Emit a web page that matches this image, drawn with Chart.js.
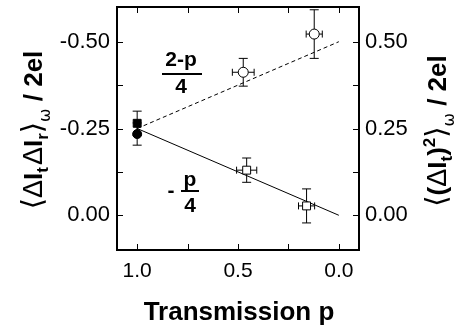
<!DOCTYPE html>
<html><head><meta charset="utf-8">
<script src="https://cdn.jsdelivr.net/npm/chart.js@4"></script>
<style>html,body{margin:0;padding:0;background:#fff}#wrap{width:466px;height:328px}</style>
</head><body><div id="wrap"><canvas id="c" width="466" height="328"></canvas></div>
<script>
// ---- data ----
const squareP = [1.0, 0.457, 0.16];
const squareY = [-0.265, -0.130, -0.027];
const squareYErr = [0.035, 0.035, 0.049];
const squareXErr = [0, 0.05, 0.04];
const circleP = [1.0, 0.474, 0.122];
const circleY = [0.234, 0.412, 0.522];
const circleYErr = [0.032, 0.04, 0.07];
const circleXErr = [0, 0.054, 0.04];
const fitP = [1.0, 0.0];
const fitLeftY = [-0.25, 0.0];   // -p/4
const fitRightY = [0.25, 0.5];   // (2-p)/4
const xTickLabels = [1.0, 0.5, 0.0];
const xTickMarks = [1.0, 0.75, 0.5, 0.25, 0.0];
const leftTickLabels = [-0.5, -0.25, 0.0];
const rightTickLabels = [0.5, 0.25, 0.0];
const rightTickMarks = [0.5, 0.375, 0.25, 0.125, 0.0];

const FONT = '"Liberation Sans", Arial, Helvetica, sans-serif';
const pts = (xs, ys) => xs.map((x, i) => ({x: x, y: ys[i]}));

const errorBars = {
  id: 'errorBars',
  beforeDatasetsDraw(chart) {
    const ctx = chart.ctx, xs = chart.scales.x;
    ctx.save();
    ctx.strokeStyle = '#000'; ctx.lineWidth = 1;
    chart.data.datasets.forEach(ds => {
      if (!ds.yErr) return;
      const ys = chart.scales[ds.yAxisID];
      ds.data.forEach((p, i) => {
        const px = xs.getPixelForValue(p.x), py = ys.getPixelForValue(p.y);
        const ye = ds.yErr[i], xe = ds.xErr[i];
        if (ye) {
          const a = ys.getPixelForValue(p.y + ye), b = ys.getPixelForValue(p.y - ye);
          ctx.beginPath();
          ctx.moveTo(px, a); ctx.lineTo(px, b);
          ctx.moveTo(px - 4.5, a); ctx.lineTo(px + 4.5, a);
          ctx.moveTo(px - 4.5, b); ctx.lineTo(px + 4.5, b);
          ctx.stroke();
        }
        if (xe) {
          const a = xs.getPixelForValue(p.x + xe), b = xs.getPixelForValue(p.x - xe);
          ctx.beginPath();
          ctx.moveTo(a, py); ctx.lineTo(b, py);
          ctx.moveTo(a, py - 3.5); ctx.lineTo(a, py + 3.5);
          ctx.moveTo(b, py - 3.5); ctx.lineTo(b, py + 3.5);
          ctx.stroke();
        }
      });
    });
    ctx.restore();
  }
};

function drawRich(ctx, parts, cx, cy, rot) {
  ctx.save();
  ctx.translate(cx, cy); ctx.rotate(rot);
  ctx.fillStyle = '#000'; ctx.textBaseline = 'alphabetic'; ctx.textAlign = 'left';
  let total = 0;
  parts.forEach(p => { ctx.font = p.f; p.w = ctx.measureText(p.t).width + (p.gap || 0); total += p.w; });
  let x = -total / 2;
  parts.forEach(p => { ctx.font = p.f; ctx.fillText(p.t, x, p.dy || 0); x += p.w; });
  ctx.restore();
}

const frameAndText = {
  id: 'frameAndText',
  afterDraw(chart) {
    const ctx = chart.ctx, a = chart.chartArea, xs = chart.scales.x, yr = chart.scales.yR;
    ctx.save();
    ctx.strokeStyle = '#000';
    ctx.lineWidth = 1;
    ctx.beginPath();
    xTickMarks.forEach(v => {
      const px = Math.round(xs.getPixelForValue(v)) + 0.5;
      ctx.moveTo(px, a.bottom); ctx.lineTo(px, a.bottom - 6);
      ctx.moveTo(px, a.top); ctx.lineTo(px, a.top + 6);
    });
    rightTickMarks.forEach(v => {
      const py = Math.round(yr.getPixelForValue(v)) + 0.5;
      ctx.moveTo(a.left, py); ctx.lineTo(a.left + 6, py);
      ctx.moveTo(a.right, py); ctx.lineTo(a.right - 6, py);
    });
    ctx.stroke();
    ctx.lineWidth = 2;
    ctx.strokeRect(a.left, a.top, a.right - a.left, a.bottom - a.top);

    // fraction annotations
    ctx.fillStyle = '#000'; ctx.textAlign = 'center'; ctx.textBaseline = 'alphabetic';
    ctx.font = 'bold 21px ' + FONT;
    ctx.fillText('2-p', 181, 66);
    ctx.fillText('4', 181, 93);
    ctx.fillRect(162, 73, 40, 2);
    ctx.fillText('p', 190, 186);
    ctx.fillText('4', 190, 212);
    ctx.fillRect(181, 190, 18, 2);
    ctx.fillText('-', 171, 197);

    // x title
    ctx.font = 'bold 26px ' + FONT;
    ctx.fillText('Transmission p', 239, 320);
    ctx.restore();

    const B = 'bold 26px ' + FONT, T = '27px ' + FONT, BR = '29px "DejaVu Sans"';
    const S = 'bold 17px ' + FONT, SW = '16px "DejaVu Sans"';
    drawRich(ctx, [
      {t: '⟨', f: BR}, {t: 'Δ', f: T}, {t: 'I', f: B}, {t: 't', f: S, dy: 6, gap: 2},
      {t: 'Δ', f: T}, {t: 'I', f: B}, {t: 'r', f: S, dy: 6}, {t: '⟩', f: BR},
      {t: 'ω', f: SW, dy: 8}, {t: ' / 2el', f: B}
    ], 42, 130, -Math.PI / 2);
    drawRich(ctx, [
      {t: '⟨', f: BR}, {t: '(', f: B}, {t: 'Δ', f: T}, {t: 'I', f: B}, {t: 't', f: S, dy: 6},
      {t: ')', f: B}, {t: '2', f: S, dy: -11}, {t: '⟩', f: BR},
      {t: 'ω', f: SW, dy: 8}, {t: ' / 2el', f: B}
    ], 446, 131, -Math.PI / 2);
  }
};

const noPadV = s => { s.paddingTop = 0; s.paddingBottom = 0; };
new Chart(document.getElementById('c'), {
  type: 'scatter',
  data: {
    datasets: [
      {data: pts(squareP, squareY), yAxisID: 'yL', yErr: squareYErr, xErr: squareXErr,
       pointStyle: 'rect', pointRadius: 5.6, pointBorderWidth: 1, pointBorderColor: '#000',
       pointBackgroundColor: ['#000', '#fff', '#fff'], order: 1},
      {data: pts(circleP, circleY), yAxisID: 'yR', yErr: circleYErr, xErr: circleXErr,
       pointStyle: 'circle', pointRadius: [4.5, 5, 5], pointBorderWidth: 1, pointBorderColor: '#000',
       pointBackgroundColor: ['#000', '#fff', '#fff'], order: 0},
      {data: pts(fitP, fitLeftY), yAxisID: 'yL', showLine: true, pointRadius: 0,
       borderColor: '#000', borderWidth: 1, order: 3},
      {data: pts(fitP, fitRightY), yAxisID: 'yR', showLine: true, pointRadius: 0,
       borderColor: '#000', borderWidth: 1, borderDash: [4, 3], order: 3}
    ]
  },
  options: {
    responsive: false, animation: false, devicePixelRatio: 1,
    layout: {padding: {top: 7, left: 0, right: 0, bottom: 0}},
    plugins: {legend: {display: false}, tooltip: {enabled: false}},
    scales: {
      x: {type: 'linear', reverse: true, min: -0.1, max: 1.1,
          grid: {display: false, drawTicks: false}, border: {display: false},
          afterBuildTicks: s => { s.ticks = xTickLabels.map(v => ({value: v})); },
          afterFit: s => { s.height = 78; s.paddingLeft = 0; s.paddingRight = 0; },
          ticks: {padding: 9, color: '#000', font: {family: FONT, size: 21},
                  callback: v => v.toFixed(1)}},
      yL: {type: 'linear', position: 'left', reverse: true, min: -0.6, max: 0.1,
           grid: {display: false, drawTicks: false}, border: {display: false},
           afterBuildTicks: s => { s.ticks = leftTickLabels.map(v => ({value: v})); },
           afterFit: s => { s.width = 117; noPadV(s); },
           ticks: {padding: 7, color: '#000', font: {family: FONT, size: 22},
                   callback: v => v.toFixed(2)}},
      yR: {type: 'linear', position: 'right', min: -0.1, max: 0.6,
           grid: {display: false, drawTicks: false}, border: {display: false},
           afterBuildTicks: s => { s.ticks = rightTickLabels.map(v => ({value: v})); },
           afterFit: s => { s.width = 107; noPadV(s); },
           ticks: {padding: 6, color: '#000', font: {family: FONT, size: 22},
                   callback: v => v.toFixed(2)}}
    }
  },
  plugins: [errorBars, frameAndText]
});
</script></body></html>
